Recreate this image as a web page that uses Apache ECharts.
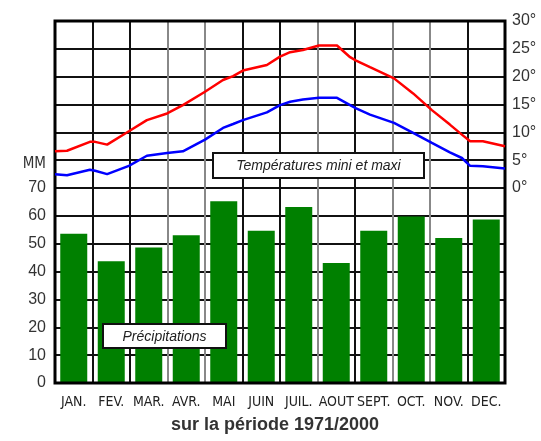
<!DOCTYPE html>
<html>
<head>
<meta charset="utf-8">
<script src="https://cdn.jsdelivr.net/npm/echarts@6/dist/echarts.min.js"></script>
<style>
  html, body { margin: 0; padding: 0; background: #fff; }
  #chart { width: 541px; height: 441px; }
</style>
</head>
<body>
<div id="chart"></div>
<script>
// mois
var months = ["JAN.", "FEV.", "MAR.", "AVR.", "MAI", "JUIN", "JUIL.", "AOUT", "SEPT.", "OCT.", "NOV.", "DEC."];
// précipitations (mm)
var rain = [53.6, 43.7, 48.7, 53.1, 65.3, 54.7, 63.2, 43.1, 54.7, 59.8, 52.1, 58.7];
// position dans l'année (en mois) des points de température
var tempPos = [0, 0.32, 0.93, 1.07, 1.39, 1.97, 2.45, 2.99, 3.41, 4.0, 4.48, 4.75, 5.01, 5.65, 6.0, 6.27, 6.61, 7.04, 7.52, 7.87, 8.03, 8.4, 9.04, 9.55, 10.05, 10.53, 10.85, 11.07, 11.41, 12];
var tempMax = [6.6, 6.7, 8.3, 8.3, 7.8, 10.2, 12.2, 13.4, 14.9, 17.3, 19.4, 20.1, 21.1, 22.1, 23.6, 24.4, 24.8, 25.6, 25.6, 23.5, 22.9, 21.7, 19.7, 17.0, 14.0, 11.4, 9.6, 8.4, 8.4, 7.5];
var tempMin = [2.5, 2.3, 3.3, 3.1, 2.5, 4.0, 5.8, 6.3, 6.6, 8.7, 10.8, 11.5, 12.2, 13.6, 14.9, 15.5, 15.9, 16.2, 16.2, 14.9, 14.3, 13.2, 11.7, 9.9, 8.1, 6.4, 5.4, 4.0, 3.9, 3.5];

function pairs(xs, ys) {
    var out = [];
    for (var i = 0; i < xs.length; i++) {
        out.push([xs[i], ys[i]]);
    }
    return out;
}

var myChart = echarts.init(document.getElementById("chart"), null, { renderer: "canvas" });

var labelFont = "'Liberation Sans', Arial, sans-serif";
var narrowFont = "'Liberation Sans Narrow', 'DejaVu Sans Condensed', sans-serif";

// encadré de légende (rectangle blanc + texte italique)
function box(x, y, w, h, txt) {
    return {
        type: "group",
        left: x, top: y,
        zlevel: 1,
        children: [{
            type: "rect",
            z: 100,
            shape: { x: 0, y: 0, width: w, height: h },
            style: { fill: "#fff", stroke: "#111", lineWidth: 2 }
        }, {
            type: "text",
            z: 101,
            x: w / 2, y: h / 2 + 1,
            style: {
                text: txt,
                font: "italic 14px 'Liberation Sans', Arial, sans-serif",
                fill: "#222",
                textAlign: "center",
                textVerticalAlign: "middle"
            }
        }]
    };
}

var option = {
    backgroundColor: "#fff",
    animation: false,
    grid: {
        left: 55, right: 36, top: 21, bottom: 58,
        show: true,
        borderColor: "#000",
        borderWidth: 3,
        z: 5
    },
    xAxis: [{
        type: "category",
        data: months,
        boundaryGap: true,
        axisLine: { show: false },
        axisTick: { show: false },
        axisLabel: {
            color: "#222",
            fontFamily: narrowFont,
            fontSize: 14,
            margin: 12,
            interval: 0
        },
        splitLine: {
            show: true,
            interval: 0,
            lineStyle: {
                width: 2,
                color: ["#111", "#111", "#111", "#888", "#888", "#111", "#111", "#888", "#111", "#888", "#888", "#111", "#111"]
            }
        }
    }, {
        type: "value",
        min: 0,
        max: 12,
        show: false
    }],
    yAxis: [{
        type: "value",
        min: 0,
        max: 130,
        interval: 10,
        position: "left",
        axisLine: { show: false },
        axisTick: { show: false },
        axisLabel: {
            color: "#333",
            fontFamily: labelFont,
            fontSize: 16,
            margin: 9,
            formatter: function (v) {
                if (v == 80) return "{mm|MM}";
                return v <= 70 ? v : "";
            },
            rich: {
                mm: { fontSize: 15, fontFamily: narrowFont, color: "#333", padding: [8, 0, 0, 0] }
            }
        },
        splitLine: { lineStyle: { color: "#111", width: 2 } }
    }, {
        type: "value",
        min: -35,
        max: 30,
        interval: 5,
        position: "right",
        axisLine: { show: false },
        axisTick: { show: false },
        splitLine: { show: false },
        axisLabel: {
            color: "#333",
            fontFamily: labelFont,
            fontSize: 16,
            margin: 7,
            formatter: function (v) {
                return v >= 0 ? v + "°" : "";
            }
        }
    }],
    series: [{
        name: "Précipitations",
        type: "bar",
        data: rain,
        barWidth: 27,
        itemStyle: { color: "#008000" },
        z: 3
    }, {
        name: "maxi",
        type: "line",
        xAxisIndex: 1,
        yAxisIndex: 1,
        data: pairs(tempPos, tempMax),
        symbol: "none",
        lineStyle: { color: "#ff0000", width: 2.5 },
        z: 6
    }, {
        name: "mini",
        type: "line",
        xAxisIndex: 1,
        yAxisIndex: 1,
        data: pairs(tempPos, tempMin),
        symbol: "none",
        lineStyle: { color: "#0000ff", width: 2.5 },
        z: 6
    }],
    graphic: [
        box(212, 152, 211, 25, "Températures mini et maxi"),
        box(102, 323, 123, 24, "Précipitations"),
        {
            type: "text",
            left: 171, top: 416,
            style: {
                text: "sur la période 1971/2000",
                font: "bold 18px 'Liberation Sans', Arial, sans-serif",
                fill: "#333"
            }
        }
    ]
};

myChart.setOption(option);
</script>
</body>
</html>
